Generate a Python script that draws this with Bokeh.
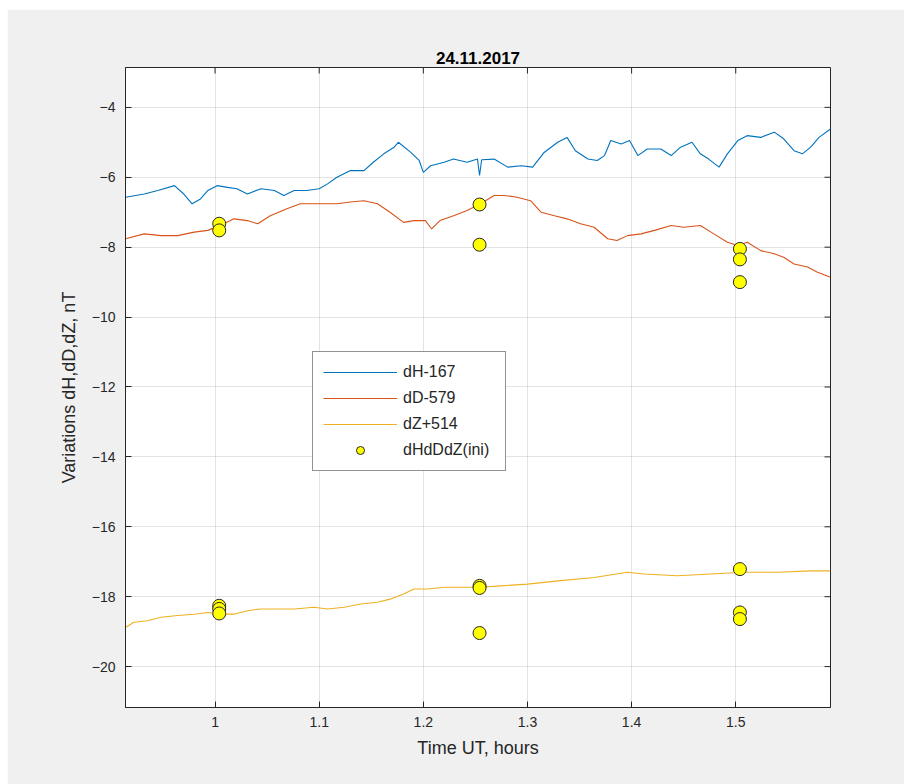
from bokeh.plotting import figure
from bokeh.models import Range1d, Legend, LegendItem, FixedTicker
from bokeh.embed import file_html
from bokeh.resources import INLINE

# ---- data ----
title_text = "24.11.2017"
x_lim = (0.914, 1.591)
y_lim = (-21.17, -2.86)
x_ticks = [1.0, 1.1, 1.2, 1.3, 1.4, 1.5]
x_tick_labels = {1.0: "1", 1.1: "1.1", 1.2: "1.2", 1.3: "1.3", 1.4: "1.4", 1.5: "1.5"}
y_ticks = [-20, -18, -16, -14, -12, -10, -8, -6, -4]

t_H = [0.914, 0.932, 0.945, 0.961, 0.970, 0.978, 0.986, 0.993, 1.002, 1.012,
       1.021, 1.031, 1.044, 1.057, 1.066, 1.076, 1.088, 1.100, 1.108, 1.117,
       1.130, 1.143, 1.152, 1.162, 1.172, 1.176, 1.188, 1.196, 1.200, 1.207,
       1.220, 1.229, 1.242, 1.252, 1.254, 1.256, 1.268, 1.281, 1.294, 1.305,
       1.316, 1.329, 1.338, 1.346, 1.358, 1.367, 1.374, 1.380, 1.390, 1.398,
       1.406, 1.415, 1.428, 1.438, 1.447, 1.458, 1.466, 1.474, 1.484, 1.492,
       1.502, 1.511, 1.524, 1.537, 1.546, 1.556, 1.564, 1.572, 1.580, 1.591]
dH = [-6.57, -6.48, -6.38, -6.24, -6.48, -6.76, -6.62, -6.38, -6.24, -6.29,
      -6.33, -6.48, -6.33, -6.38, -6.52, -6.38, -6.38, -6.33, -6.19, -6.00,
      -5.81, -5.81, -5.57, -5.33, -5.14, -5.00, -5.29, -5.52, -5.86, -5.67,
      -5.57, -5.48, -5.57, -5.48, -5.95, -5.50, -5.48, -5.71, -5.67, -5.71,
      -5.29, -5.00, -4.86, -5.24, -5.48, -5.52, -5.38, -4.95, -5.05, -4.95,
      -5.38, -5.19, -5.19, -5.38, -5.14, -5.00, -5.33, -5.48, -5.71, -5.33,
      -4.95, -4.81, -4.86, -4.71, -4.90, -5.24, -5.33, -5.14, -4.86, -4.62]

t_D = [0.914, 0.932, 0.948, 0.964, 0.980, 0.993, 1.005, 1.018, 1.031, 1.041,
       1.053, 1.069, 1.082, 1.101, 1.117, 1.130, 1.143, 1.156, 1.168, 1.181,
       1.191, 1.202, 1.208, 1.216, 1.229, 1.242, 1.255, 1.268, 1.278, 1.290,
       1.303, 1.313, 1.326, 1.338, 1.351, 1.364, 1.377, 1.386, 1.396, 1.409,
       1.422, 1.438, 1.450, 1.466, 1.479, 1.492, 1.502, 1.511, 1.524, 1.537,
       1.546, 1.556, 1.569, 1.578, 1.591]
dD = [-7.76, -7.62, -7.67, -7.67, -7.57, -7.52, -7.38, -7.19, -7.24, -7.33,
      -7.10, -6.90, -6.76, -6.76, -6.76, -6.71, -6.67, -6.76, -7.00, -7.29,
      -7.24, -7.24, -7.48, -7.24, -7.10, -6.95, -6.76, -6.52, -6.52, -6.57,
      -6.67, -7.00, -7.10, -7.19, -7.33, -7.43, -7.76, -7.81, -7.67, -7.62,
      -7.52, -7.38, -7.43, -7.38, -7.62, -7.86, -7.95, -7.86, -8.10, -8.19,
      -8.29, -8.48, -8.57, -8.71, -8.86]

t_Z = [0.914, 0.922, 0.935, 0.948, 0.964, 0.980, 0.993, 1.005, 1.018, 1.031,
       1.044, 1.060, 1.076, 1.095, 1.108, 1.124, 1.140, 1.156, 1.168, 1.181,
       1.191, 1.204, 1.220, 1.236, 1.255, 1.274, 1.300, 1.332, 1.364, 1.396,
       1.412, 1.444, 1.476, 1.508, 1.540, 1.572, 1.591]
dZ = [-18.88, -18.73, -18.69, -18.59, -18.54, -18.50, -18.45, -18.50, -18.50, -18.40,
      -18.35, -18.35, -18.35, -18.30, -18.35, -18.30, -18.21, -18.16, -18.07, -17.92,
      -17.78, -17.78, -17.73, -17.73, -17.73, -17.69, -17.64, -17.54, -17.45, -17.30,
      -17.35, -17.40, -17.35, -17.30, -17.30, -17.26, -17.26]

t_ini = [1.004, 1.004, 1.004, 1.004, 1.004,
         1.254, 1.254, 1.254, 1.254, 1.254,
         1.504, 1.504, 1.504, 1.504, 1.504, 1.504]
v_ini = [-7.33, -7.52, -18.26, -18.35, -18.48,
         -6.78, -7.93, -17.69, -17.75, -19.04,
         -8.05, -8.35, -9.00, -17.21, -18.45, -18.64]

labels = ["dH-167", "dD-579", "dZ+514", "dHdDdZ(ini)"]

# ---- figure ----
FONT = "Liberation Sans"
AX = "#262626"
FRAME_W, FRAME_H = 705, 640   # frame size in px (from the min_border values below)
TICK_PX = 6

p = figure(width=897, height=775, output_backend="svg", toolbar_location=None,
           x_range=Range1d(*x_lim), y_range=Range1d(*y_lim),
           min_border_left=118, min_border_right=74, min_border_top=58, min_border_bottom=77,
           background_fill_color="white", border_fill_color="#F0F0F0",
           margin=(9, 0, 0, 7))

p.title.text = title_text
p.title.align = "center"
p.title.text_font = FONT
p.title.text_font_size = "17px"
p.title.text_font_style = "bold"
p.title.text_color = "#000000"
p.title.standoff = 8

p.outline_line_color = AX
p.outline_line_width = 1

xt = FixedTicker(ticks=x_ticks)
yt = FixedTicker(ticks=y_ticks)
p.xgrid.ticker = xt
p.ygrid.ticker = yt
p.grid.grid_line_color = "#262626"
p.grid.grid_line_alpha = 0.13
p.grid.grid_line_width = 1

# mirrored inward ticks on the top and right edges of the box
dy_tick = (y_lim[1] - y_lim[0]) * TICK_PX / FRAME_H
dx_tick = (x_lim[1] - x_lim[0]) * TICK_PX / FRAME_W
p.segment(x0=x_ticks, x1=x_ticks,
          y0=[y_lim[1]] * len(x_ticks), y1=[y_lim[1] - dy_tick] * len(x_ticks),
          line_color=AX, line_width=1)
p.segment(x0=[x_lim[1]] * len(y_ticks), x1=[x_lim[1] - dx_tick] * len(y_ticks),
          y0=y_ticks, y1=y_ticks, line_color=AX, line_width=1)

r_h = p.line(t_H, dH, line_color="#0072BD", line_width=1.1)
r_d = p.line(t_D, dD, line_color="#D95319", line_width=1.1)
r_z = p.line(t_Z, dZ, line_color="#EDB120", line_width=1.1)
r_i = p.scatter(t_ini, v_ini, size=13, fill_color="#FFFF00", line_color="#262626", line_width=1)

for ax in p.xaxis:
    ax.ticker = xt
    ax.major_label_overrides = x_tick_labels
    ax.axis_label = "Time UT, hours"
    ax.axis_label_standoff = 8
    ax.major_label_standoff = 9
for ax in p.yaxis:
    ax.ticker = yt
    ax.axis_label = "Variations dH,dD,dZ, nT"
    ax.axis_label_standoff = 10
    ax.major_label_standoff = 10

for ax in p.axis:
    ax.axis_line_color = AX
    ax.major_tick_line_color = AX
    ax.major_tick_in = TICK_PX
    ax.major_tick_out = 0
    ax.minor_tick_line_color = None
    ax.major_label_text_font = FONT
    ax.major_label_text_font_size = "14px"
    ax.major_label_text_color = AX
    ax.axis_label_text_font = FONT
    ax.axis_label_text_font_size = "18px"
    ax.axis_label_text_font_style = "normal"
    ax.axis_label_text_color = AX

legend = Legend(items=[LegendItem(label=labels[0], renderers=[r_h]),
                       LegendItem(label=labels[1], renderers=[r_d]),
                       LegendItem(label=labels[2], renderers=[r_z]),
                       LegendItem(label=labels[3], renderers=[r_i])],
                location=(187, 236), orientation="vertical",
                border_line_color=AX, border_line_width=1,
                background_fill_color="white", background_fill_alpha=1,
                label_text_font=FONT, label_text_font_size="16px", label_text_color=AX,
                glyph_width=74, glyph_height=20, label_height=20, label_width=92,
                label_standoff=6, spacing=6, padding=10, margin=0)
p.add_layout(legend, "center")

open("out.html", "w").write(file_html(p, INLINE))
